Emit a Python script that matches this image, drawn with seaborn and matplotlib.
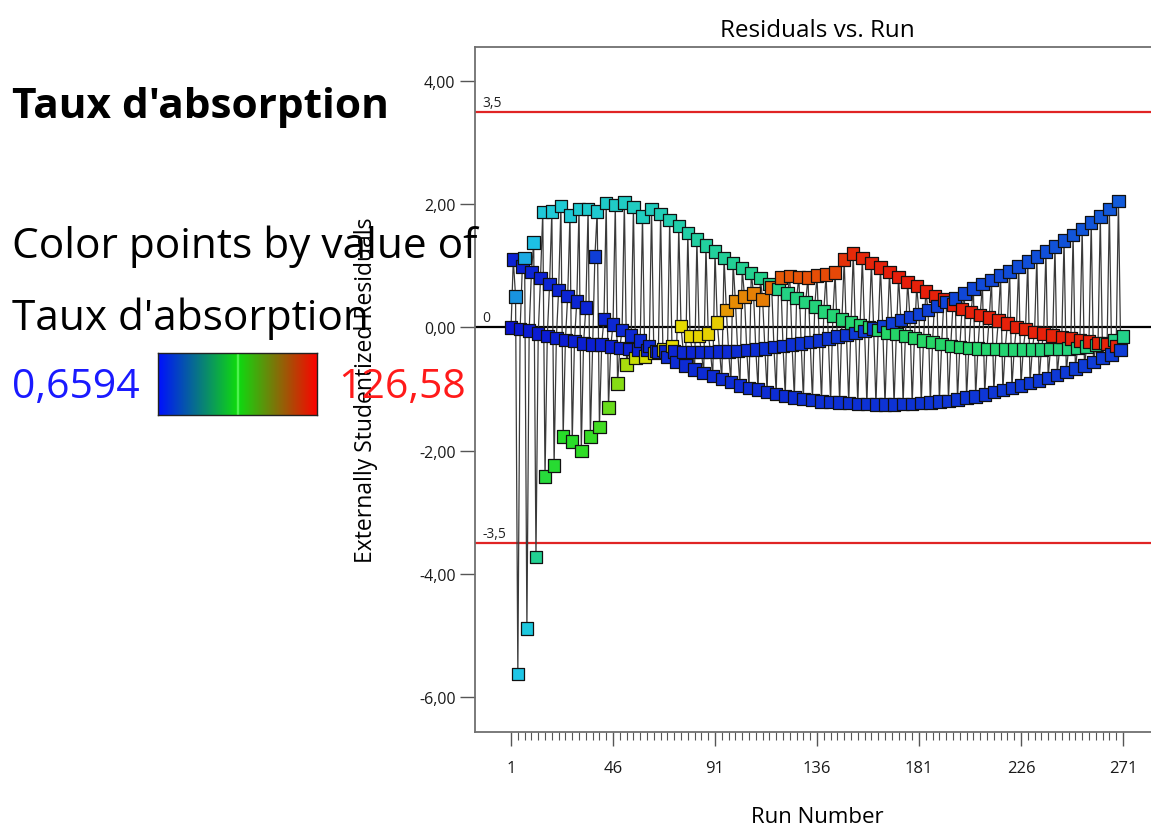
import numpy as np
import pandas as pd
import matplotlib
matplotlib.use("Agg")
import matplotlib.pyplot as plt
from matplotlib.colors import LinearSegmentedColormap
from matplotlib.ticker import FixedLocator
import seaborn as sns

# ---- data -----------------------------------------------------------------
# Externally studentized residuals, one list per interleaved run sequence.
# Sequence n holds runs n, n+4, n+8, ...
resid_seq1 = [0.00, -0.03, -0.05, -0.10, -0.14, -0.17, -0.20, -0.22, -0.26, -0.28,
              -0.28, -0.31, -0.33, -0.35, -0.36, -0.37, -0.38, -0.39, -0.39, -0.40,
              -0.40, -0.40, -0.40, -0.39, -0.39, -0.38, -0.37, -0.36, -0.34, -0.32,
              -0.30, -0.28, -0.26, -0.24, -0.21, -0.18, -0.15, -0.12, -0.09, -0.06,
              -0.02, 0.02, 0.07, 0.12, 0.17, 0.22, 0.28, 0.35, 0.41, 0.47,
              0.55, 0.63, 0.70, 0.77, 0.84, 0.91, 0.99, 1.07, 1.15, 1.23,
              1.31, 1.41, 1.50, 1.60, 1.70, 1.80, 1.92, 2.05]
resid_seq2 = [1.10, 0.99, 0.90, 0.80, 0.70, 0.61, 0.51, 0.42, 0.32, 1.15,
              0.14, 0.05, -0.04, -0.13, -0.21, -0.30, -0.40, -0.48, -0.56, -0.62,
              -0.68, -0.74, -0.79, -0.84, -0.89, -0.94, -0.98, -1.01, -1.05, -1.08,
              -1.11, -1.14, -1.16, -1.18, -1.20, -1.21, -1.22, -1.23, -1.24, -1.24,
              -1.25, -1.25, -1.25, -1.24, -1.24, -1.23, -1.22, -1.20, -1.19, -1.17,
              -1.14, -1.12, -1.09, -1.05, -1.02, -0.98, -0.94, -0.90, -0.86, -0.82,
              -0.77, -0.72, -0.67, -0.62, -0.56, -0.50, -0.44, -0.37]
resid_seq3 = [0.50, 1.13, 1.38, 1.87, 1.88, 1.97, 1.82, 1.92, 1.92, 1.88,
              2.02, 1.99, 2.03, 1.95, 1.80, 1.92, 1.84, 1.74, 1.65, 1.53,
              1.43, 1.33, 1.23, 1.13, 1.05, 0.96, 0.88, 0.80, 0.70, 0.62,
              0.55, 0.48, 0.41, 0.34, 0.26, 0.19, 0.13, 0.08, 0.04, 0.01,
              -0.04, -0.08, -0.11, -0.14, -0.17, -0.21, -0.24, -0.27, -0.30, -0.32,
              -0.33, -0.34, -0.35, -0.35, -0.36, -0.36, -0.36, -0.36, -0.36, -0.35,
              -0.35, -0.34, -0.33, -0.31, -0.29, -0.25, -0.20, -0.15]
resid_seq4 = [-5.63, -4.89, -3.73, -2.42, -2.24, -1.77, -1.85, -2.01, -1.77, -1.62,
              -1.30, -0.91, -0.60, -0.50, -0.47, -0.42, -0.36, -0.30, 0.02, -0.14,
              -0.14, -0.10, 0.08, 0.28, 0.42, 0.50, 0.55, 0.45, 0.65, 0.81,
              0.83, 0.82, 0.81, 0.84, 0.86, 0.89, 1.10, 1.20, 1.13, 1.05,
              0.97, 0.90, 0.82, 0.74, 0.67, 0.58, 0.51, 0.45, 0.37, 0.30,
              0.25, 0.20, 0.16, 0.11, 0.06, 0.01, -0.03, -0.07, -0.10, -0.13,
              -0.16, -0.18, -0.21, -0.23, -0.25, -0.27, -0.30]

# Taux d'absorption of each run, used for point colours
absorp_seq1 = [0.6594, 2.1, 2.4, 2.2, 2.6, 2.8, 2.5, 3.0, 2.7, 3.1,
               3.3, 3.0, 3.4, 3.6, 3.2, 3.8, 4.0, 3.7, 4.1, 4.3,
               4.0, 4.5, 4.7, 4.4, 4.9, 5.1, 5.0, 5.4, 5.6, 5.3,
               5.8, 6.0, 6.2, 6.1, 6.5, 6.8, 6.6, 7.0, 7.3, 7.1,
               7.6, 7.9, 8.1, 8.0, 8.4, 8.7, 8.6, 9.0, 9.3, 9.1,
               9.6, 9.9, 10.1, 10.0, 10.4, 10.7, 10.6, 11.0, 11.3, 11.1,
               11.6, 11.9, 12.1, 12.0, 12.4, 12.7, 12.6, 13.0]
absorp_seq2 = [3.5, 3.6, 3.7, 3.6, 3.8, 3.9, 3.8, 4.0, 4.1, 8.2,
               4.1, 4.2, 4.3, 4.2, 4.4, 4.5, 4.4, 4.6, 4.7, 4.6,
               4.8, 4.9, 4.8, 5.0, 5.1, 5.0, 5.2, 5.3, 5.2, 5.4,
               5.5, 5.4, 5.6, 5.7, 5.6, 5.8, 5.9, 5.8, 6.0, 6.1,
               6.0, 6.2, 6.3, 6.2, 6.4, 6.5, 6.4, 6.6, 6.7, 6.6,
               6.8, 6.9, 6.8, 7.0, 7.1, 7.0, 7.2, 7.3, 7.2, 7.4,
               7.5, 7.4, 7.6, 7.7, 7.6, 7.8, 7.9, 7.8]
absorp_seq3 = [23.0, 27.0, 31.0, 34.5, 35.0, 35.5, 35.0, 36.0, 36.5, 36.0,
               37.0, 37.5, 38.0, 38.5, 39.0, 39.5, 40.5, 41.0, 42.0, 42.5,
               43.5, 44.0, 44.5, 45.0, 45.5, 46.0, 46.5, 47.0, 47.5, 48.0,
               48.5, 49.0, 49.5, 50.0, 50.5, 51.0, 51.5, 52.0, 52.0, 52.5,
               52.5, 53.0, 53.0, 53.0, 53.5, 53.5, 53.5, 53.0, 53.0, 53.0,
               52.5, 52.5, 52.0, 52.0, 51.5, 51.5, 51.0, 51.0, 50.5, 50.5,
               50.0, 50.0, 49.5, 49.5, 49.0, 48.5, 48.0, 47.5]
absorp_seq4 = [32.0, 33.5, 46.0, 60.5, 62.0, 63.5, 64.0, 65.0, 66.0, 68.0,
               74.0, 79.0, 85.0, 90.0, 92.0, 93.0, 94.0, 95.0, 95.5, 96.0,
               96.5, 97.0, 98.0, 106.0, 108.0, 109.0, 110.0, 110.5, 114.0, 116.5,
               117.0, 117.5, 118.0, 118.5, 119.0, 119.5, 123.0, 124.5, 125.0, 125.5,
               126.0, 126.58, 126.3, 126.1, 125.9, 126.2, 126.0, 125.8, 126.1, 125.9,
               125.7, 126.0, 125.8, 125.6, 125.9, 125.7, 125.5, 125.8, 125.6, 125.4,
               125.7, 125.5, 125.3, 125.6, 125.4, 125.2, 125.5]

first_runs = [1, 2, 3, 4]
run_ticks = [1, 46, 91, 136, 181, 226, 271]
resid_ticks = [-6, -4, -2, 0, 2, 4]
limit_value = 3.5
absorp_min, absorp_max = 0.6594, 126.58

# ---- table in run order -----------------------------------------------------
frames = []
for start, res, absn in zip(first_runs,
                            [resid_seq1, resid_seq2, resid_seq3, resid_seq4],
                            [absorp_seq1, absorp_seq2, absorp_seq3, absorp_seq4]):
    frames.append(pd.DataFrame({"run": start + 4 * np.arange(len(res)),
                                "resid": res, "absorption": absn}))
df = pd.concat(frames).sort_values("run").reset_index(drop=True)

# ---- styling ----------------------------------------------------------------
sns.set_theme(style="white")
plt.rcParams["font.family"] = ["Open Sans", "DejaVu Sans"]
plt.rcParams["text.color"] = "black"
plt.rcParams["axes.labelcolor"] = "black"
plt.rcParams["xtick.color"] = "#555555"
plt.rcParams["ytick.color"] = "#555555"
plt.rcParams["xtick.labelcolor"] = "#1a1a1a"
plt.rcParams["ytick.labelcolor"] = "#1a1a1a"

point_cmap = LinearSegmentedColormap.from_list(
    "points", [(0.0, "#0a14d2"), (0.25, "#1ec8e6"), (0.5, "#28dc28"),
               (0.75, "#e6dc00"), (1.0, "#e61e0a")])
bar_cmap = LinearSegmentedColormap.from_list(
    "bar", [(0.0, "#0010ff"), (0.49, "#10d810"), (0.5, "#70ff70"),
            (0.51, "#10d810"), (1.0, "#ff0000")])

W, H = 1151, 828
fig = plt.figure(figsize=(W / 100, H / 100), dpi=100)
ax = fig.add_axes([475 / W, (H - 733) / H, 684 / W, (733 - 48) / H])

# connecting line in run order, then the coloured squares on top
sns.lineplot(data=df, x="run", y="resid", sort=False, estimator=None,
             color="#3a3a3a", linewidth=0.9, ax=ax, zorder=2)
sns.scatterplot(data=df, x="run", y="resid", hue="absorption",
                palette=point_cmap, hue_norm=(absorp_min, absorp_max),
                marker="s", s=80, edgecolor="#111111", linewidth=0.9,
                legend=False, ax=ax, zorder=3)

ax.axhline(limit_value, color="#e02424", lw=1.6, zorder=1)
ax.axhline(-limit_value, color="#e02424", lw=1.6, zorder=1)
ax.axhline(0, color="black", lw=1.6, zorder=1)
for v in (limit_value, 0, -limit_value):
    lab = f"{v:g}".replace(".", ",")
    ax.text(-11.5, v + 0.1, lab, fontsize=10, ha="left", va="baseline",
            color="#222222")

ax.set_xlim(-14.9, 286.9)
ax.set_ylim(-6.568, 4.552)
ax.set_xticks(run_ticks)
ax.set_xticklabels([str(t) for t in run_ticks])
ax.xaxis.set_minor_locator(FixedLocator(list(range(1, 272, 3))))
ax.set_yticks(resid_ticks)
ax.set_yticklabels([f"{t:.2f}".replace(".", ",") for t in resid_ticks])

ax.tick_params(axis="x", which="major", direction="out", length=10, width=1.0,
               labelsize=12, pad=10, bottom=True)
ax.tick_params(axis="x", which="minor", direction="out", length=5.5, width=0.8,
               bottom=True)
ax.tick_params(axis="y", which="major", direction="out", length=11, width=1.0,
               labelsize=11.5, pad=3, left=True)
for sp in ax.spines.values():
    sp.set_color("#707070")
    sp.set_linewidth(1.3)

ax.set_title("Residuals vs. Run", fontsize=17.5, pad=8)
ax.set_xlabel("Run Number", fontsize=16, va="top")
ax.xaxis.set_label_coords(0.5, -(807 - 733) / (733 - 48))
ax.set_ylabel("Externally Studentized Residuals", fontsize=16.5)
ax.yaxis.set_label_coords(-0.142, 0.5)

# ---- colour key at left --------------------------------------------------------
fig.text(12 / W, (H - 118) / H, "Taux d'absorption", fontsize=30.5,
         fontweight="bold", ha="left", va="baseline")
fig.text(12 / W, (H - 258) / H, "Color points by value of", fontsize=30.5,
         ha="left", va="baseline")
fig.text(12 / W, (H - 330) / H, "Taux d'absorption", fontsize=30.5,
         ha="left", va="baseline")
fig.text(12 / W, (H - 398) / H, f"{absorp_min:.4f}".replace(".", ","),
         fontsize=29.5, color="#1a1aff", ha="left", va="baseline")
fig.text(338 / W, (H - 398) / H, f"{absorp_max:.2f}".replace(".", ","),
         fontsize=29.5, color="#ff1a1a", ha="left", va="baseline")

cax = fig.add_axes([158 / W, (H - 416) / H, 159 / W, 62 / H])
cax.imshow(np.linspace(0, 1, 512)[None, :], aspect="auto", cmap=bar_cmap)
cax.set_xticks([])
cax.set_yticks([])
for sp in cax.spines.values():
    sp.set_color("#222222")
    sp.set_linewidth(1.0)

fig.savefig("out.png", dpi=100)
